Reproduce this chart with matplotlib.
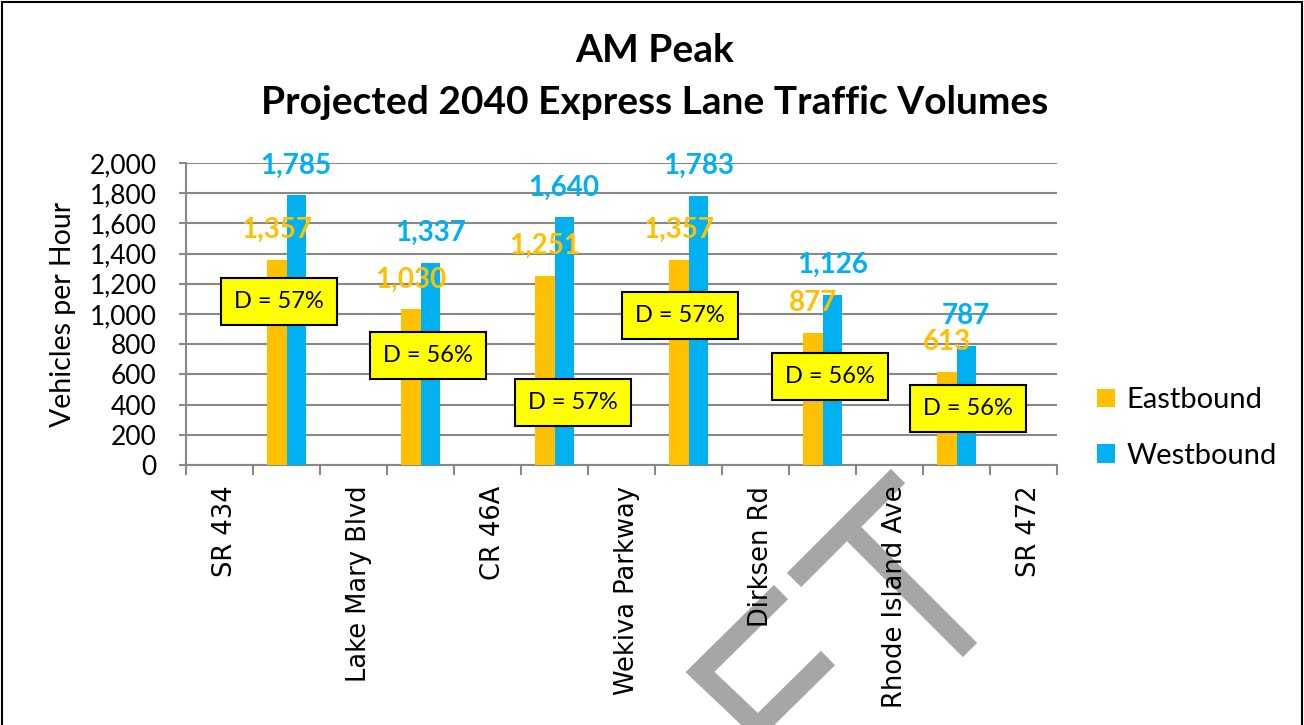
import matplotlib.pyplot as plt
import matplotlib.transforms as mtransforms
import numpy as np
from matplotlib.lines import Line2D
from matplotlib.patches import Rectangle

plt.rcParams['font.family'] = ['Lato', 'DejaVu Sans']

# dados
categorias = ["SR 434", "", "Lake Mary Blvd", "", "CR 46A", "", "Wekiva Parkway", "",
              "Dirksen Rd", "", "Rhode Island Ave", "", "SR 472"]
eastbound = [np.nan, 1357, np.nan, 1030, np.nan, 1251, np.nan, 1357, np.nan, 877, np.nan, 613, np.nan]
westbound = [np.nan, 1785, np.nan, 1337, np.nan, 1640, np.nan, 1783, np.nan, 1126, np.nan, 787, np.nan]
d_textos = ["D = 57%", "D = 56%", "D = 57%", "D = 57%", "D = 56%", "D = 56%"]
d_pos = [(0.89, 1086), (3.11, 728), (5.28, 417), (6.87, 987), (9.11, 589), (11.17, 377)]
y_ticks = list(range(0, 2001, 200))

cor_east = '#FFC000'
cor_west = '#00B0F0'
cinza = '#888888'

W, H = 1304, 725
fig = plt.figure(figsize=(W / 100, H / 100), dpi=100)
ax = fig.add_axes([186 / W, 1 - 465 / H, (1057 - 186) / W, (465 - 163) / H])
ax.patch.set_alpha(0)

x = np.arange(len(categorias))
larg = 0.29
b1 = ax.bar(x - 0.145, eastbound, larg, color=cor_east, label='Eastbound', zorder=3)
b2 = ax.bar(x + 0.145, westbound, larg, color=cor_west, label='Westbound', zorder=3)

for xs, vals, cor in [(x - 0.145, eastbound, cor_east), (x + 0.145, westbound, cor_west)]:
    for xi, v in zip(xs, vals):
        if np.isnan(v):
            continue
        ax.annotate(f"{int(v):,}", (xi, v), xytext=(0, 30), textcoords='offset pixels',
                    ha='center', va='center', color=cor, fontsize=20, fontweight='bold', zorder=5)

for txt, (px, py) in zip(d_textos, d_pos):
    ax.text(px, py, txt, ha='center', va='center', fontsize=17, color='black', zorder=6,
            bbox=dict(boxstyle='square,pad=0.55', facecolor='#FFFF00', edgecolor='black', linewidth=1.5))

ax.set_xlim(-0.5, len(categorias) - 0.5)
ax.set_ylim(0, 2000)
ax.set_yticks(y_ticks)
ax.set_yticklabels([f"{t:,}" for t in y_ticks], fontsize=19)
ax.yaxis.grid(True, color=cinza, linewidth=1.5, zorder=0)
ax.set_axisbelow(True)

ax.set_xticks(x)
ax.set_xticklabels(categorias, rotation=90, fontsize=18.5, family='DejaVu Sans', va='top')
ax.set_xticks(np.arange(-0.5, len(categorias), 1.0), minor=True)
ax.tick_params(axis='x', which='major', length=0, pad=15)
ax.tick_params(axis='x', which='minor', length=7, color=cinza, width=1.5)
ax.tick_params(axis='y', length=5, color=cinza, width=1.5, pad=16)

# rotulos do eixo x um pouco a direita, como no original
desloc = mtransforms.ScaledTranslation(6 / 100, 0, fig.dpi_scale_trans)
for tick in ax.xaxis.get_major_ticks():
    tick.label1.set_transform(tick.label1.get_transform() + desloc)

for s in ['top', 'right']:
    ax.spines[s].set_visible(False)
for s in ['left', 'bottom']:
    ax.spines[s].set_color(cinza)
    ax.spines[s].set_linewidth(1.5)

ax.set_ylabel("Vehicles per Hour", fontsize=20.5, labelpad=10)

fig.text(0.502, 1 - 50 / H, "AM Peak", ha='center', va='center', fontsize=28, fontweight='bold')
fig.text(0.502, 1 - 103 / H, "Projected 2040 Express Lane Traffic Volumes", ha='center', va='center',
         fontsize=28, fontweight='bold')

fig.legend(handles=[b1, b2], loc='center left', bbox_to_anchor=(1071 / W, 1 - 428 / H), frameon=False,
           fontsize=21, handlelength=0.6, handleheight=0.6, handletextpad=0.4, labelspacing=1.0)

# marca d'agua "CT"
def px(pts):
    return [p[0] / W for p in pts], [1 - p[1] / H for p in pts]

marca = [
    [(794, 580), (898, 476)],
    [(854, 534), (970, 650)],
    [(781, 592), (700, 672), (758, 727), (828, 658)],
]
for pts in marca:
    xs, ys = px(pts)
    fig.add_artist(Line2D(xs, ys, color='#A6A6A6', linewidth=14.5, solid_capstyle='butt',
                          solid_joinstyle='miter', zorder=-1))

fig.add_artist(Rectangle((2 / W, -0.1), 1300 / W, 1.1 - 2 / H, fill=False, edgecolor='black',
                         linewidth=1.5, transform=fig.transFigure))

fig.savefig('out.png', dpi=100)
